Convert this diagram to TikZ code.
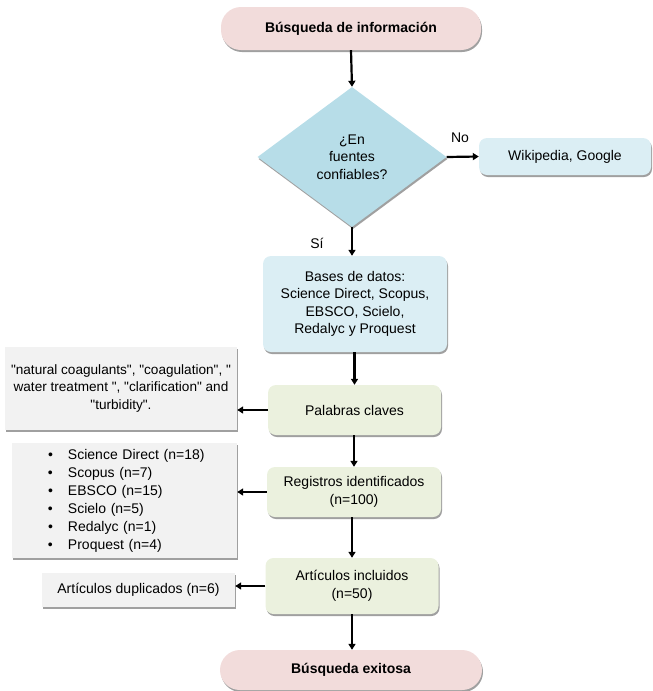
\documentclass[tikz,border=0pt]{standalone}
\usepackage{fontspec}
\setmainfont[Ligatures=TeXOff]{Liberation Sans}
\usetikzlibrary{shapes.geometric,shadows,arrows.meta}
\definecolor{pinkf}{RGB}{242,220,219}
\definecolor{diaf}{RGB}{183,221,232}
\definecolor{bluef}{RGB}{219,238,244}
\definecolor{greenf}{RGB}{235,241,222}
\definecolor{grayf}{RGB}{242,242,242}
\definecolor{shad}{RGB}{150,150,150}
\newcommand\listitem{\hspace*{36pt}\makebox[20pt][l]{•}}
\begin{document}
\begin{tikzpicture}[x=1pt,y=-1pt,
  every node/.style={font=\fontsize{14}{17.5}\selectfont},
  shade/.style={drop shadow={shadow xshift=1pt,shadow yshift=-2pt,fill=shad,opacity=0.9}},
  term/.style={shade,fill=pinkf,rounded corners=20pt,inner sep=0pt,font=\fontsize{14}{17}\selectfont\bfseries},
  bluebox/.style={shade,fill=bluef,rounded corners=8pt,inner sep=0pt,align=center},
  greenbox/.style={shade,fill=greenf,rounded corners=8pt,inner sep=0pt,align=center},
  graybox/.style={shade,fill=grayf,inner sep=0pt,align=center},
  arr/.style={line width=2.2pt,-{Triangle[length=6pt,width=7pt]}},
  lbl/.style={inner sep=0pt}
]
\useasboundingbox (0,0) rectangle (653,691);
\node[term,minimum width=260pt,minimum height=43pt] (top) at (351,28.5) {Búsqueda de información};
\node[diamond,shade,fill=diaf,inner sep=0pt,minimum width=189pt,minimum height=140pt,align=center] (dia) at (352,157) {¿En\\fuentes\\confiables?};
\node[bluebox,minimum width=172pt,minimum height=37pt] (wiki) at (565,156.5) {Wikipedia, Google};
\node[bluebox,minimum width=184pt,minimum height=96pt] (bases) at (355,304) {Bases de datos:\\Science Direct, Scopus,\\EBSCO, Scielo,\\Redalyc y Proquest};
\node[graybox,minimum width=232pt,minimum height=83pt,font=\fontsize{13.6}{17.5}\selectfont] (kw) at (121,388) {"natural coagulants", "coagulation", "\\water treatment ", "clarification" and\\"turbidity".};
\node[greenbox,minimum width=173pt,minimum height=50pt] (pal) at (354.5,410) {Palabras claves};
\node[graybox,minimum height=115pt,align=left,text width=225pt,inner xsep=0pt,font=\fontsize{14}{18}\selectfont] (list) at (124.5,500.5) {\listitem Science Direct (n=18)\\\listitem Scopus (n=7)\\\listitem EBSCO (n=15)\\\listitem Scielo (n=5)\\\listitem Redalyc (n=1)\\\listitem Proquest (n=4)};
\node[greenbox,minimum width=174pt,minimum height=50pt] (reg) at (354,492) {Registros identificados\\(n=100)};
\node[greenbox,minimum width=173pt,minimum height=56pt] (art) at (352,586) {Artículos incluidos\\(n=50)};
\node[graybox,minimum width=193pt,minimum height=34pt] (dup) at (138.5,590) {Artículos duplicados (n=6)};
\node[term,minimum width=262pt,minimum height=40pt] (bot) at (351,670) {Búsqueda exitosa};
\node[lbl] (no) at (460,138) {No};
\node[lbl] (si) at (317,243) {Sí};
\draw[arr] (top.south) -- (dia.north);
\draw[arr] (dia.east) -- (wiki.west);
\draw[arr] (dia.south) -- (dia.south |- bases.north);
\draw[arr] (bases.south -| pal.north) -- (pal.north);
\draw[arr] (pal.west) -- (pal.west -| kw.east);
\draw[arr] (pal.south -| reg.north) -- (reg.north);
\draw[arr] (reg.west) -- (reg.west -| list.east);
\draw[arr] (reg.south -| art.north) -- (art.north);
\draw[arr] (art.west) -- (art.west -| dup.east);
\draw[arr] (art.south) -- (art.south |- bot.north);
\end{tikzpicture}
\end{document}
